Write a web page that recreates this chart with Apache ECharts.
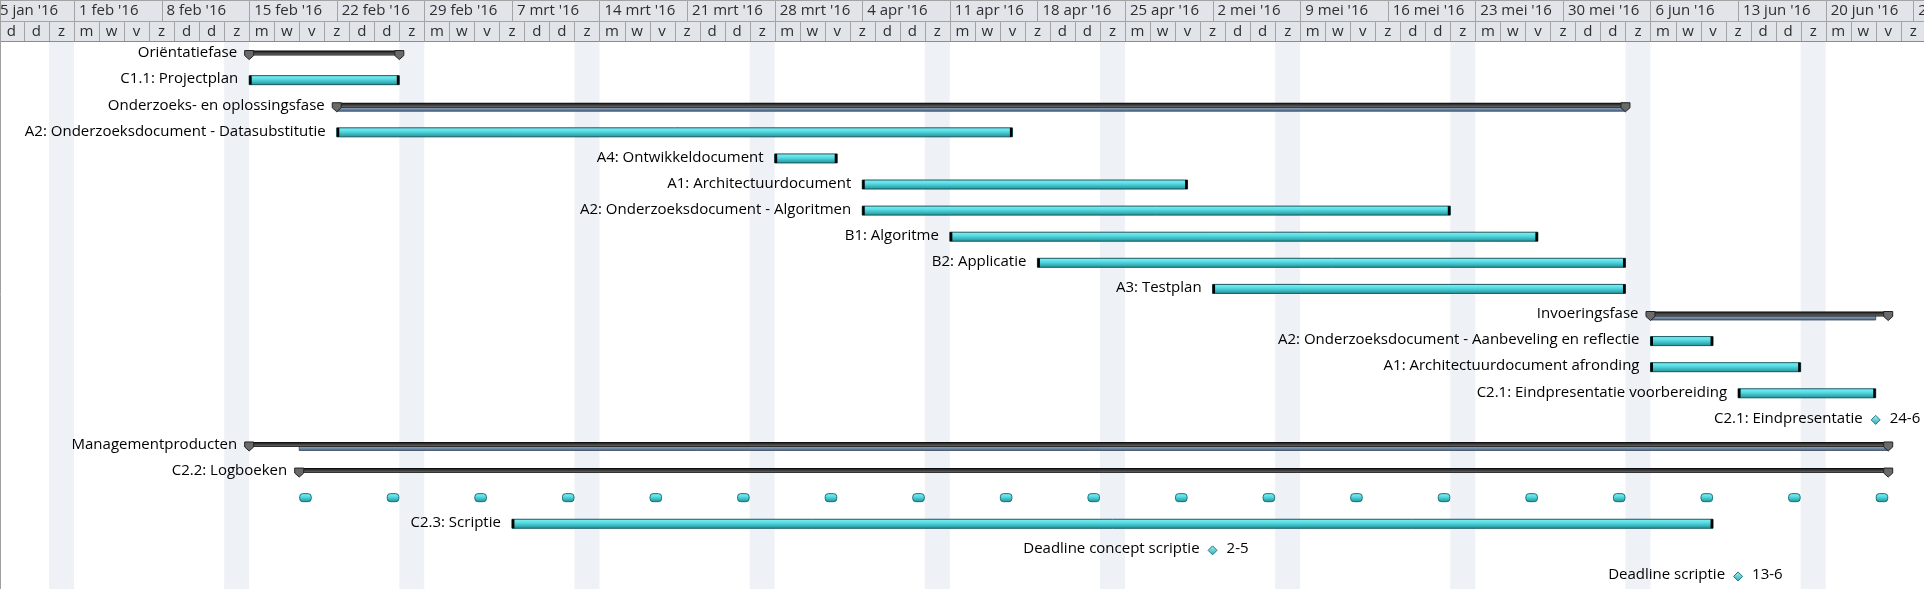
<!DOCTYPE html>
<html><head><meta charset="utf-8">
<script src="https://cdn.jsdelivr.net/npm/echarts@6/dist/echarts.min.js"></script>
<style>html,body{margin:0;padding:0;background:#fff;overflow:hidden}#c{width:1924px;height:589px;}</style>
</head><body><div id="c"></div>
<script>
// ---------- data ----------
const weekStarts = ['2016-01-25','2016-02-01','2016-02-08','2016-02-15','2016-02-22','2016-02-29','2016-03-07','2016-03-14','2016-03-21','2016-03-28','2016-04-04','2016-04-11','2016-04-18','2016-04-25','2016-05-02','2016-05-09','2016-05-16','2016-05-23','2016-05-30','2016-06-06','2016-06-13','2016-06-20','2016-06-27'];
const weekLabels = ["25 jan '16","1 feb '16","8 feb '16","15 feb '16","22 feb '16","29 feb '16","7 mrt '16","14 mrt '16","21 mrt '16","28 mrt '16","4 apr '16","11 apr '16","18 apr '16","25 apr '16","2 mei '16","9 mei '16","16 mei '16","23 mei '16","30 mei '16","6 jun '16","13 jun '16","20 jun '16","27 jun '16"];
const dayInitials = ['z','m','d','w','d','v','z']; // zo..za
const taskNames = ["Oriëntatiefase","C1.1: Projectplan","Onderzoeks- en oplossingsfase","A2: Onderzoeksdocument - Datasubstitutie","A4: Ontwikkeldocument","A1: Architectuurdocument","A2: Onderzoeksdocument - Algoritmen","B1: Algoritme","B2: Applicatie","A3: Testplan","Invoeringsfase","A2: Onderzoeksdocument - Aanbeveling en reflectie","A1: Architectuurdocument afronding","C2.1: Eindpresentatie voorbereiding","C2.1: Eindpresentatie","Managementproducten","C2.2: Logboeken","","C2.3: Scriptie","Deadline concept scriptie","Deadline scriptie"];
const taskKinds = ["summary","task","summary","task","task","task","task","task","task","task","summary","task","task","task","milestone","summary","summary","recurring","task","milestone","milestone"];
const taskStarts = ["2016-02-15","2016-02-15","2016-02-22","2016-02-22","2016-03-28","2016-04-04","2016-04-04","2016-04-11","2016-04-18","2016-05-02","2016-06-06","2016-06-06","2016-06-06","2016-06-13","2016-06-24","2016-02-15","2016-02-19",null,"2016-03-07","2016-05-02","2016-06-13"];
const taskFinishes = ["2016-02-26","2016-02-26","2016-06-03","2016-04-15","2016-04-01","2016-04-29","2016-05-20","2016-05-27","2016-06-03","2016-06-03","2016-06-24","2016-06-10","2016-06-17","2016-06-23",null,"2016-06-24","2016-06-24",null,"2016-06-10",null,null];
const baselineStarts = [null,null,"2016-02-22",null,null,null,null,null,null,null,"2016-06-06",null,null,null,null,"2016-02-19",null,null,null,null,null];
const baselineFinishes = [null,null,"2016-06-03",null,null,null,null,null,null,null,"2016-06-23",null,null,null,null,"2016-06-24",null,null,null,null,null];
const logboekDates = ['2016-02-19','2016-02-26','2016-03-04','2016-03-11','2016-03-18','2016-03-25','2016-04-01','2016-04-08','2016-04-15','2016-04-22','2016-04-29','2016-05-06','2016-05-13','2016-05-20','2016-05-27','2016-06-03','2016-06-10','2016-06-17','2016-06-24'];
const logboekRow = 17;
const viewStart = -5.914, viewEnd = 147.86; // days relative to 1 feb 2016

// ---------- helpers ----------
const DAY = 86400000;
const ORIGIN = Date.UTC(2016,1,1);
function dayOf(s){ const p=s.split('-').map(Number); return (Date.UTC(p[0],p[1]-1,p[2])-ORIGIN)/DAY; }
function weekday(d){ return ((1 + d) % 7 + 7) % 7; } // 1 feb 2016 = maandag
function dm(s){ const p=s.split('-').map(Number); return p[2]+'-'+p[1]; }
const FONT = '15px "Open Sans"';
const TXT = '#000';
const G = echarts.graphic;

const dayCells = [];
for (let d = -6; d < 148; d += 2) dayCells.push([d, d + 2, 1, weekday(d)]);
const weekendCells = dayCells.filter(c => c[3] === 6).map(c => [c[0], c[1], 0]);

const cyanGrad = () => new G.LinearGradient(0,0,0,1,[{offset:0,color:'#8AF2F7'},{offset:0.4,color:'#55DCE4'},{offset:1,color:'#1F8D94'}]);

const taskData = [];
taskNames.forEach((n,i) => {
  if (taskKinds[i] === 'recurring') return;
  const s = dayOf(taskStarts[i]);
  const e = taskFinishes[i] ? dayOf(taskFinishes[i]) + 1 : s;
  const bs = baselineStarts[i] ? dayOf(baselineStarts[i]) : NaN;
  const be = baselineFinishes[i] ? dayOf(baselineFinishes[i]) + 1 : NaN;
  taskData.push([s, e, i, bs, be]);
});

function renderTask(params, api) {
  const row = api.value(2);
  const kind = taskKinds[row];
  const name = taskNames[row];
  const s = api.value(0), e = api.value(1);
  const c = api.coord([s, row])[1];
  const x0 = api.coord([s, row])[0];
  const x1 = api.coord([e, row])[0];
  const ch = [];
  if (kind === 'task') {
    ch.push({type:'rect', shape:{x:x0, y:c-4.5, width:x1-x0, height:9}, style:{fill:cyanGrad(), stroke:'#17595E', lineWidth:1}});
    ch.push({type:'rect', shape:{x:x0, y:c-4.5, width:2.5, height:9}, style:{fill:'#000'}});
    ch.push({type:'rect', shape:{x:x1-2.5, y:c-4.5, width:2.5, height:9}, style:{fill:'#000'}});
    ch.push({type:'text', x:x0-11, y:c-1, style:{text:name, font:FONT, fill:TXT, align:'right', verticalAlign:'middle'}});
  } else if (kind === 'summary') {
    const bs = api.value(3), be = api.value(4);
    if (!isNaN(bs)) {
      const bx0 = api.coord([bs, row])[0], bx1 = api.coord([be, row])[0];
      ch.push({type:'rect', shape:{x:bx0, y:c+0.5, width:bx1-bx0, height:4.5}, style:{fill:new G.LinearGradient(0,0,0,1,[{offset:0,color:'#A3B6CC'},{offset:1,color:'#48627F'}]), stroke:'#34475E', lineWidth:0.8}});
    }
    ch.push({type:'rect', shape:{x:x0, y:c-3.5, width:x1-x0, height:5}, style:{fill:new G.LinearGradient(0,0,0,1,[{offset:0,color:'#000'},{offset:0.3,color:'#2E2E2E'},{offset:0.75,color:'#5C5C5C'},{offset:1,color:'#111'}])}});
    [x0, x1].forEach(x => {
      ch.push({type:'polygon', shape:{points:[[x-4.5,c-3.5],[x+4.5,c-3.5],[x+4.5,c+1.5],[x,c+5.5],[x-4.5,c+1.5]]}, style:{fill:'#6A6A6A', stroke:'#222', lineWidth:1}});
    });
    ch.push({type:'text', x:x0-12, y:c-1, style:{text:name, font:FONT, fill:TXT, align:'right', verticalAlign:'middle'}});
  } else if (kind === 'milestone') {
    const y = c + 0.5;
    ch.push({type:'polygon', shape:{points:[[x0,y-4.5],[x0+4.5,y],[x0,y+4.5],[x0-4.5,y]]}, style:{fill:new G.LinearGradient(0,0,0,1,[{offset:0,color:'#A8F1F5'},{offset:1,color:'#2FAAB3'}]), stroke:'#1E7A80', lineWidth:1}});
    ch.push({type:'text', x:x0-13, y:c-1, style:{text:name, font:FONT, fill:TXT, align:'right', verticalAlign:'middle'}});
    ch.push({type:'text', x:x0+14, y:c-1, style:{text:dm(taskStarts[row]), font:FONT, fill:TXT, align:'left', verticalAlign:'middle'}});
  }
  return {type:'group', children:ch};
}

const chart = echarts.init(document.getElementById('c'), null, {renderer:'canvas'});
chart.setOption({
  animation:false,
  backgroundColor:'#fff',
  textStyle:{fontFamily:'"Open Sans"'},
  grid:[
    {left:0, right:0, top:0, height:42},
    {left:0, right:0, top:41, bottom:0}
  ],
  xAxis:[
    {type:'value', gridIndex:0, min:viewStart, max:viewEnd, show:false},
    {type:'value', gridIndex:1, min:viewStart, max:viewEnd, show:false}
  ],
  yAxis:[
    {type:'value', gridIndex:0, min:0, max:2, inverse:true, show:false},
    {type:'category', gridIndex:1, data:taskNames.map((n,i)=>String(i)), inverse:true, show:false}
  ],
  graphic:[{type:'line', shape:{x1:0.5, y1:0, x2:0.5, y2:589}, style:{stroke:'#A0A0A0', lineWidth:1}, z:200}],
  series:[
    { // weekend shading
      type:'custom', xAxisIndex:1, yAxisIndex:1, silent:true, z:1,
      data:weekendCells, encode:{x:[0,1], y:2},
      renderItem:(params, api) => {
        const a = api.coord([api.value(0), 0])[0], b = api.coord([api.value(1), 0])[0];
        const cs = params.coordSys;
        return {type:'rect', shape:{x:a, y:cs.y, width:b-a, height:cs.height}, style:{fill:'#EEF1F6'}};
      }
    },
    { // week header row
      type:'custom', xAxisIndex:0, yAxisIndex:0, silent:true, z:10,
      data:weekStarts.map((s,i)=>[dayOf(s), dayOf(s)+7, 0, i]), encode:{x:[0,1], y:2},
      renderItem:(params, api) => {
        const a = api.coord([api.value(0), 0]), b = api.coord([api.value(1), 1]);
        return {type:'group', children:[
          {type:'rect', shape:{x:Math.round(a[0])+0.5, y:0.5, width:Math.round(b[0])-Math.round(a[0]), height:b[1]-a[1]}, style:{fill:'#E1E4E9', stroke:'#A3A3A3', lineWidth:1}},
          {type:'text', x:a[0]+5, y:(a[1]+b[1])/2+0.5, style:{text:weekLabels[api.value(3)], font:FONT, fill:'#2E2E2E', align:'left', verticalAlign:'middle'}}
        ]};
      }
    },
    { // day header row
      type:'custom', xAxisIndex:0, yAxisIndex:0, silent:true, z:10,
      data:dayCells, encode:{x:[0,1], y:2},
      renderItem:(params, api) => {
        const a = api.coord([api.value(0), 1]), b = api.coord([api.value(1), 2]);
        return {type:'group', children:[
          {type:'rect', shape:{x:Math.round(a[0])+0.5, y:Math.round(a[1])+0.5, width:Math.round(b[0])-Math.round(a[0]), height:b[1]-a[1]-1}, style:{fill:'#E1E4E9', stroke:'#A3A3A3', lineWidth:1}},
          {type:'line', shape:{x1:a[0], y1:41.5, x2:b[0], y2:41.5}, style:{stroke:'#8C8C8C', lineWidth:1}},
          {type:'text', x:(a[0]+b[0])/2, y:(a[1]+b[1])/2, style:{text:dayInitials[api.value(3)], font:FONT, fill:'#2E2E2E', align:'center', verticalAlign:'middle'}}
        ]};
      }
    },
    { // tasks, summaries, milestones
      type:'custom', xAxisIndex:1, yAxisIndex:1, silent:true, z:5,
      data:taskData, encode:{x:[0,1], y:2},
      renderItem:renderTask
    },
    { // recurring logboek markers
      type:'custom', xAxisIndex:1, yAxisIndex:1, silent:true, z:5,
      data:logboekDates.map(s=>[dayOf(s), dayOf(s)+1, logboekRow]), encode:{x:[0,1], y:2},
      renderItem:(params, api) => {
        const row = api.value(2);
        const a = api.coord([api.value(0), row]), b = api.coord([api.value(1), row]);
        return {type:'rect', shape:{x:a[0]+0.5, y:a[1]-4, width:b[0]-a[0]-1, height:8, r:3}, style:{fill:cyanGrad(), stroke:'#1B6E74', lineWidth:1}};
      }
    }
  ]
});
</script>
</body></html>
